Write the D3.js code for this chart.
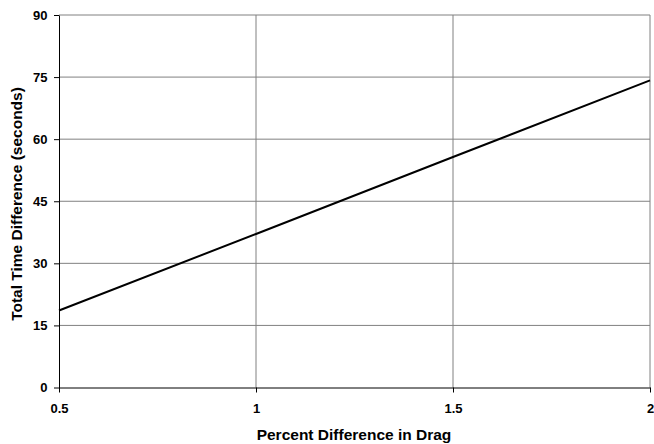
<!DOCTYPE html>
<html>
<head>
<meta charset="utf-8">
<script src="https://cdn.jsdelivr.net/npm/d3@7"></script>
<style>
  body { margin: 0; background: #fff; }
  text { font-family: "Liberation Sans", Arial, sans-serif; font-weight: bold; fill: #000; }
</style>
</head>
<body>
<div id="chart"></div>
<script>
// data
const dragPct = [0.5, 1, 1.5, 2]
const timeDiff = [18.6, 37.1, 55.7, 74.2]
const xTicks = [0.5, 1, 1.5, 2]
const yTicks = [0, 15, 30, 45, 60, 75, 90]

const W = 654
const H = 444
const plotLeft = 59
const plotRight = 650
const plotTop = 15
const plotBottom = 387.5

const svg = d3.select('#chart').append('svg')
  .attr('width', W)
  .attr('height', H)

const x = d3.scaleLinear().domain([0.5, 2]).range([plotLeft, plotRight])
const y = d3.scaleLinear().domain([0, 90]).range([plotBottom, plotTop])

/* ----------  GRID  ---------- */
svg.append('g')
  .selectAll('line')
  .data(yTicks.filter(d => d > 0))
  .join('line')
  .attr('x1', plotLeft).attr('x2', plotRight)
  .attr('y1', d => y(d)).attr('y2', d => y(d))
  .attr('stroke', '#808080')
  .attr('stroke-width', 1)

svg.append('g')
  .selectAll('line')
  .data(xTicks.filter(d => d > 0.5))
  .join('line')
  .attr('x1', d => x(d)).attr('x2', d => x(d))
  .attr('y1', plotTop).attr('y2', plotBottom)
  .attr('stroke', '#808080')
  .attr('stroke-width', 1)

/* ----------  AXES  ---------- */
const xAxis = svg.append('g')
  .attr('transform', `translate(0,${plotBottom})`)
  .call(d3.axisBottom(x).tickValues(xTicks).tickFormat(d3.format('')).tickSize(5).tickSizeOuter(0))
xAxis.select('.domain').attr('stroke', '#000')
xAxis.selectAll('.tick text')
  .style('font-size', '13px')
  .attr('dy', null)
  .attr('y', 25.5)

const yAxis = svg.append('g')
  .attr('transform', `translate(${plotLeft},0)`)
  .call(d3.axisLeft(y).tickValues(yTicks).tickSize(5).tickSizeOuter(0))
yAxis.select('.domain').attr('stroke', '#000')
yAxis.selectAll('.tick text')
  .style('font-size', '13px')
  .attr('x', -11.5)

/* ----------  LINE  ---------- */
svg.append('path')
  .datum(dragPct.map((d, i) => [d, timeDiff[i]]))
  .attr('fill', 'none')
  .attr('stroke', '#000')
  .attr('stroke-width', 2)
  .attr('d', d3.line().x(d => x(d[0])).y(d => y(d[1])))

/* ----------  TITLES  ---------- */
svg.append('text')
  .attr('x', 354)
  .attr('y', 440)
  .attr('text-anchor', 'middle')
  .style('font-size', '15.5px')
  .text('Percent Difference in Drag')

svg.append('text')
  .attr('transform', `translate(22,204) rotate(-90)`)
  .attr('text-anchor', 'middle')
  .style('font-size', '15.5px')
  .text('Total Time Difference (seconds)')
</script>
</body>
</html>
